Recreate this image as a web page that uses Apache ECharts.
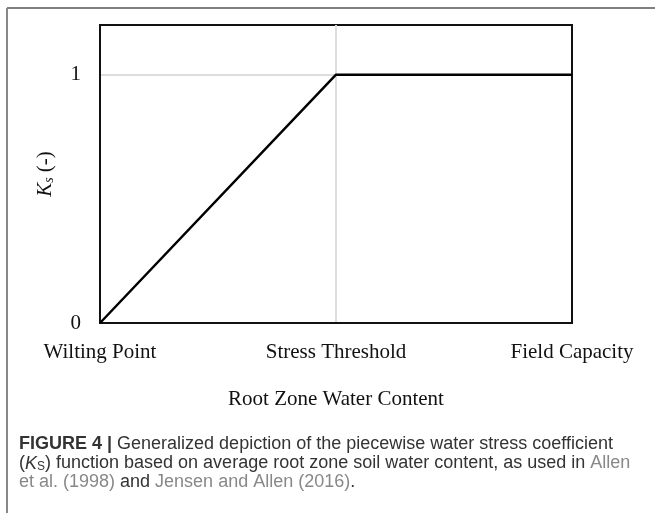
<!DOCTYPE html>
<html>
<head>
<meta charset="utf-8">
<script src="https://cdn.jsdelivr.net/npm/echarts@6/dist/echarts.min.js"></script>
<style>
  html, body { margin: 0; padding: 0; background: #fff; }
  #main { width: 655px; height: 513px; }
</style>
</head>
<body>
<div id="main"></div>
<script>
// points of the piecewise Ks function
var categories = ['Wilting Point', 'Stress Threshold', 'Field Capacity'];
var ksValues = [0, 1, 1];
var yTicks = [0, 1];

var captionLines = [
    '{b|FIGURE 4 |} Generalized depiction of the piecewise water stress coefficient',
    '({ki|K}{sub|S}) function based on average root zone soil water content, as used in {ln|Allen}',
    '{ln|et al. (1998)} and {ln|Jensen and Allen (2016)}.'
];

var serif = '"Liberation Serif", "Times New Roman", serif';
var sans = '"Liberation Sans", Arial, sans-serif';
// outer split lines double as the plot frame, the inner one is light grey
var splitColors = ['#111', '#ddd', '#111'];

var myChart = echarts.init(document.getElementById('main'));

var option = {
    backgroundColor: '#fff',
    animation: false,
    grid: {
        left: 100, top: 25, right: 83, bottom: 190,
        show: true,
        borderColor: '#111',
        borderWidth: 2
    },
    xAxis: {
        type: 'category',
        data: categories,
        boundaryGap: false,
        name: 'Root Zone Water Content',
        nameLocation: 'middle',
        nameGap: 66,
        nameTextStyle: { fontFamily: serif, fontSize: 21, color: '#111' },
        axisLine: { lineStyle: { color: '#111', width: 2 } },
        axisTick: { show: false },
        axisLabel: { margin: 19, fontFamily: serif, fontSize: 21, color: '#111' },
        splitLine: { show: true, lineStyle: { color: splitColors, width: 2 } }
    },
    yAxis: {
        type: 'value',
        min: 0,
        max: 1.2,
        interval: 1,
        name: '{k|K}{s|s}{n| (-)}',
        nameLocation: 'middle',
        nameGap: 44,
        nameTextStyle: {
            fontFamily: serif, fontSize: 21, color: '#111',
            rich: {
                k: { fontFamily: serif, fontSize: 21, fontStyle: 'italic', color: '#111' },
                s: { fontFamily: serif, fontSize: 14, fontStyle: 'italic', color: '#111', verticalAlign: 'bottom', lineHeight: 14 },
                n: { fontFamily: serif, fontSize: 21, color: '#111' }
            }
        },
        axisLine: { show: true, lineStyle: { color: '#111', width: 2 } },
        axisTick: { show: false },
        axisLabel: {
            margin: 19, fontFamily: serif, fontSize: 21, color: '#111',
            showMaxLabel: false,
            formatter: function (v) { return yTicks.indexOf(v) >= 0 ? String(v) : ''; }
        },
        splitLine: { show: true, lineStyle: { color: splitColors, width: 2 } }
    },
    series: [{
        type: 'line',
        data: ksValues,
        symbol: 'none',
        z: 5,
        lineStyle: { color: '#000', width: 2.5 }
    }],
    title: {
        text: captionLines.join('\n'),
        left: 14,
        top: 430,
        textStyle: {
            fontFamily: sans,
            fontSize: 18,
            lineHeight: 19,
            fontWeight: 'normal',
            color: '#333',
            rich: {
                b: { fontFamily: sans, fontSize: 18, fontWeight: 'bold', color: '#333' },
                ki: { fontFamily: sans, fontSize: 18, fontStyle: 'italic', color: '#333' },
                sub: { fontFamily: sans, fontSize: 12, color: '#333', verticalAlign: 'bottom', lineHeight: 14 },
                ln: { fontFamily: sans, fontSize: 18, color: '#888' }
            }
        }
    },
    graphic: [
        { type: 'line', shape: { x1: 7, y1: 8, x2: 655, y2: 8 }, style: { stroke: '#555', lineWidth: 1.5 } },
        { type: 'line', shape: { x1: 7, y1: 8, x2: 7, y2: 513 }, style: { stroke: '#888', lineWidth: 2 } }
    ]
};
myChart.setOption(option);
</script>
</body>
</html>
